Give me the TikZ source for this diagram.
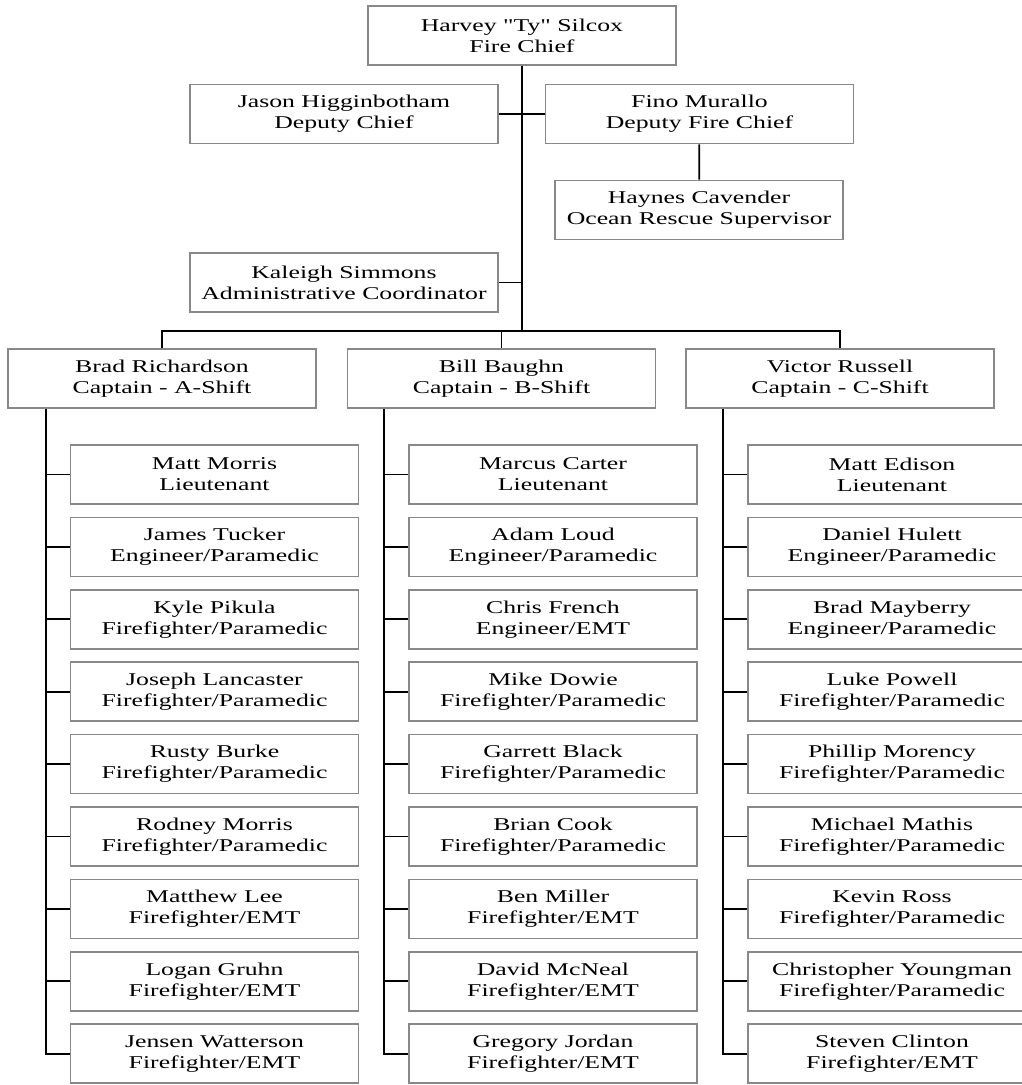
\documentclass[tikz,border=0pt]{standalone}
\usepackage{fontspec}
\setmainfont{Liberation Serif}[FakeStretch=1.43, Ligatures=TeXOff]
\usetikzlibrary{positioning}
\definecolor{boxgray}{RGB}{136,136,136}
\tikzset{
  bx/.style={rectangle, minimum width=308pt, minimum height=59pt, inner sep=0pt, align=center, draw=boxgray, line width=1.7pt, font=\fontsize{18}{21}\selectfont},
  sb/.style={bx, minimum width=288pt},
  ln/.style={black, line width=1.8pt},
  node distance=11.7pt
}
\begin{document}
\begin{tikzpicture}[x=1pt, y=-1pt]
	\useasboundingbox (0,0) rectangle (1022,1085);
	% top of the chart
	\node[bx] (chief) at (522,35.5) {Harvey "Ty" Silcox\\Fire Chief};
	\node[bx] (jason) at (344,114) {Jason Higginbotham\\Deputy Chief};
	\node[bx] (fino) at (699.5,114) {Fino Murallo\\Deputy Fire Chief};
	\node[sb] (haynes) at (699,210) {Haynes Cavender\\Ocean Rescue Supervisor};
	\node[bx] (kaleigh) at (344,282.5) {Kaleigh Simmons\\Administrative Coordinator};
	\coordinate (bus) at (522,331);
	%
	\node[bx] (brad) at (162,378.5) {Brad Richardson\\Captain - A-Shift};
	\node[bx] (bill) at (501.5,378.5) {Bill Baughn\\Captain - B-Shift};
	\node[bx] (victor) at (840,378.5) {Victor Russell\\Captain - C-Shift};
	% A-Shift
	\node[sb] (a1) at (214.5,474.5) {Matt Morris\\Lieutenant};
	\node[sb, below=of a1] (a2) {James Tucker\\Engineer/Paramedic};
	\node[sb, below=of a2] (a3) {Kyle Pikula\\Firefighter/Paramedic};
	\node[sb, below=of a3] (a4) {Joseph Lancaster\\Firefighter/Paramedic};
	\node[sb, below=of a4] (a5) {Rusty Burke\\Firefighter/Paramedic};
	\node[sb, below=of a5] (a6) {Rodney Morris\\Firefighter/Paramedic};
	\node[sb, below=of a6] (a7) {Matthew Lee\\Firefighter/EMT};
	\node[sb, below=of a7] (a8) {Logan Gruhn\\Firefighter/EMT};
	\node[sb, below=of a8] (a9) {Jensen Watterson\\Firefighter/EMT};
	% B-Shift
	\node[sb] (b1) at (553,474.5) {Marcus Carter\\Lieutenant};
	\node[sb, below=of b1] (b2) {Adam Loud\\Engineer/Paramedic};
	\node[sb, below=of b2] (b3) {Chris French\\Engineer/EMT};
	\node[sb, below=of b3] (b4) {Mike Dowie\\Firefighter/Paramedic};
	\node[sb, below=of b4] (b5) {Garrett Black\\Firefighter/Paramedic};
	\node[sb, below=of b5] (b6) {Brian Cook\\Firefighter/Paramedic};
	\node[sb, below=of b6] (b7) {Ben Miller\\Firefighter/EMT};
	\node[sb, below=of b7] (b8) {David McNeal\\Firefighter/EMT};
	\node[sb, below=of b8] (b9) {Gregory Jordan\\Firefighter/EMT};
	% C-Shift
	\node[sb] (c1) at (892,474.5) {Matt Edison\\Lieutenant};
	\node[sb, below=of c1] (c2) {Daniel Hulett\\Engineer/Paramedic};
	\node[sb, below=of c2] (c3) {Brad Mayberry\\Engineer/Paramedic};
	\node[sb, below=of c3] (c4) {Luke Powell\\Firefighter/Paramedic};
	\node[sb, below=of c4] (c5) {Phillip Morency\\Firefighter/Paramedic};
	\node[sb, below=of c5] (c6) {Michael Mathis\\Firefighter/Paramedic};
	\node[sb, below=of c6] (c7) {Kevin Ross\\Firefighter/Paramedic};
	\node[sb, below=of c7] (c8) {Christopher Youngman\\Firefighter/Paramedic};
	\node[sb, below=of c8] (c9) {Steven Clinton\\Firefighter/EMT};
	%
	\draw[ln] (chief) -- (bus);
	\draw[ln] (jason) -- (fino);
	\draw[ln] (fino) -- (haynes);
	\draw[ln] (kaleigh.east) -- (kaleigh.east -| bus);
	\draw[ln] (brad.north) |- (bus) -| (victor.north);
	\draw[ln] (bill.north) -- (bill.north |- bus);
	%
	\draw[ln] (a9.west) -- ++(-24,0) -- ([xshift=-24pt]a1.west |- brad.south);
	\draw[ln] (b9.west) -- ++(-24,0) -- ([xshift=-24pt]b1.west |- bill.south);
	\draw[ln] (c9.west) -- ++(-24,0) -- ([xshift=-24pt]c1.west |- victor.south);
	\draw[ln] (a1.west) -- ++(-24,0) (a2.west) -- ++(-24,0) (a3.west) -- ++(-24,0) (a4.west) -- ++(-24,0) (a5.west) -- ++(-24,0) (a6.west) -- ++(-24,0) (a7.west) -- ++(-24,0) (a8.west) -- ++(-24,0);
	\draw[ln] (b1.west) -- ++(-24,0) (b2.west) -- ++(-24,0) (b3.west) -- ++(-24,0) (b4.west) -- ++(-24,0) (b5.west) -- ++(-24,0) (b6.west) -- ++(-24,0) (b7.west) -- ++(-24,0) (b8.west) -- ++(-24,0);
	\draw[ln] (c1.west) -- ++(-24,0) (c2.west) -- ++(-24,0) (c3.west) -- ++(-24,0) (c4.west) -- ++(-24,0) (c5.west) -- ++(-24,0) (c6.west) -- ++(-24,0) (c7.west) -- ++(-24,0) (c8.west) -- ++(-24,0);
\end{tikzpicture}
\end{document}
